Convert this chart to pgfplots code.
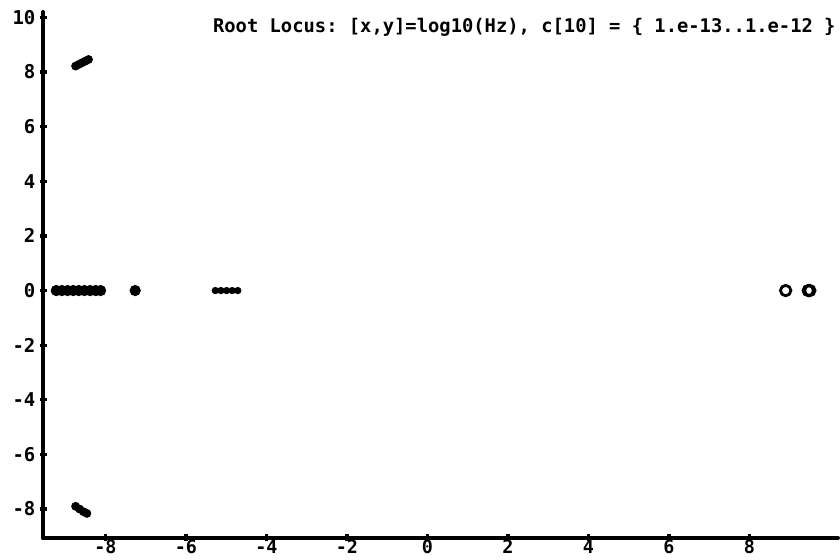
\documentclass[border=0pt]{standalone}
\usepackage{pgfplots}
\pgfplotsset{compat=1.18}
\usepackage{fontspec}
\newfontfamily\plotfont{DejaVu Sans Mono}
\frenchspacing
\begin{document}
\begin{tikzpicture}
\useasboundingbox (0,0) rectangle (420pt,280pt);
\begin{axis}[
  at={(21.5pt,11pt)}, anchor=south west,
  scale only axis, width=397.5pt, height=263pt,
  xmin=-9.55, xmax=10.2, ymin=-9.06, ymax=10.2,
  axis lines=left,
  axis line style={-, line width=2pt, line cap=round},
  xtick={-8,-6,...,8}, ytick={-8,-6,...,10},
  minor y tick num=4,
  tick align=center,
  major tick length=3.5pt, minor tick length=2pt,
  tick style={line width=1.6pt, black},
  minor tick style={line width=1pt},
  clip=false,
  /pgf/number format/assume math mode=true,
  ticklabel style={font=\plotfont\bfseries\fontsize{9.5}{10}\selectfont},
  yticklabel style={xshift=1.5pt},
  xticklabel style={anchor=north, inner sep=0pt, text height=7pt, text depth=0pt, yshift=1pt,
     font=\plotfont\bfseries\fontsize{9.2}{10}\selectfont},
]
% poles on the real axis (large)
\addplot[only marks, mark=*, mark size=2.6pt, black] coordinates {
(-9.22,0) (-9.08,0) (-8.94,0) (-8.80,0) (-8.66,0) (-8.52,0) (-8.38,0) (-8.24,0) (-8.12,0) (-7.26,0)
};
% small cluster
\addplot[only marks, mark=*, mark size=1.6pt, black] coordinates {
(-5.27,0) (-5.13,0) (-4.99,0) (-4.85,0) (-4.71,0)
};
% complex pair, upper
\addplot[only marks, mark=*, mark size=2pt, black] coordinates {
(-8.74,8.22) (-8.66,8.28) (-8.58,8.34) (-8.50,8.40) (-8.42,8.46)
};
% complex pair, lower
\addplot[only marks, mark=*, mark size=2pt, black] coordinates {
(-8.74,-7.90) (-8.64,-8.00) (-8.54,-8.10) (-8.46,-8.16)
};
% zeros
\addplot[only marks, mark=o, mark size=2.6pt, line width=1.4pt, black] coordinates {
(8.90,0) (9.46,0) (9.50,0)
};
\node[anchor=north east, inner sep=0pt, font=\plotfont\bfseries\fontsize{9.4}{11}\selectfont]
  at (rel axis cs:1,1) [yshift=-3pt, xshift=-1pt] {Root Locus: [x,y]=log10(Hz), c[10] = \{ 1.e-13..1.e-12 \}};
\end{axis}
\end{tikzpicture}
\end{document}
